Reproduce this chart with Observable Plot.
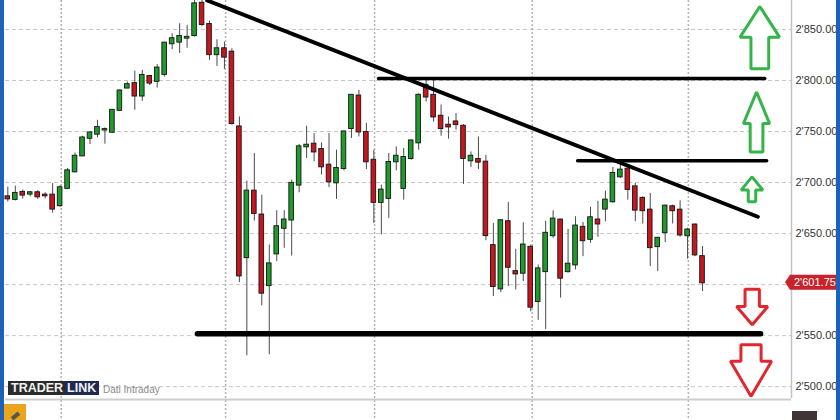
<!DOCTYPE html>
<html>
<head>
<meta charset="utf-8">
<script src="https://cdn.jsdelivr.net/npm/d3@7"></script>
<script src="https://cdn.jsdelivr.net/npm/@observablehq/plot@0.6"></script>
<style>
  html, body { margin: 0; padding: 0; background: #fff; }
  #chart { position: relative; width: 840px; height: 420px; overflow: hidden; background: #fff;
           font-family: "Liberation Sans", Arial, sans-serif; }
  #chart svg { position: absolute; left: 0; top: 0; }
  .edge { position: absolute; top: 0; width: 4px; height: 420px; background: #1c62b9; }
  .edge.left { left: 0; }
  .edge.right { right: 0; }
  .brand { position: absolute; left: 8px; top: 381px; height: 14px; display: flex;
           font-weight: bold; font-size: 12.5px; line-height: 14px; color: #f2f2f2; }
  .brand .b1 { background: #2b2b2b; padding: 0 2px 0 3px; }
  .brand .b2 { background: #1d2b52; padding: 0 3px 0 2px; }
  .feed { position: absolute; left: 103px; top: 384px; font-size: 10px; color: #8a8a8a; }
  .tool { position: absolute; left: 4px; top: 404px; width: 22px; height: 18px; background: #eba51c; }
  .tool::after { content: ""; position: absolute; left: 7px; top: 10px; width: 9px; height: 4px;
                 background: #555; transform: rotate(-40deg); }
  .btn { position: absolute; left: 792px; top: 411px; width: 25px; height: 10px; background: #3e3636; }
</style>
</head>
<body>
<div id="chart">
  <div class="edge left"></div>
  <div class="edge right"></div>
  <div class="brand"><span class="b1">TRADER</span><span class="b2">LINK</span></div>
  <div class="feed">Dati Intraday</div>
  <div class="tool"></div>
  <div class="btn"></div>
</div>
<script>
// Intraday candles, oldest first
const open = [
  2686, 2683.5, 2690.4, 2688.7, 2690, 2687.7, 2687.7, 2677.3, 2694.3, 2710.5,
  2726.1, 2743.4, 2747.4, 2751.5, 2749.3, 2770.8, 2792.6, 2796.9, 2784.8, 2804,
  2799.2, 2806, 2836, 2837.6, 2841.5, 2844.1, 2875.7, 2854.9, 2825.3, 2831.1,
  2827.8, 2754.5, 2626.4, 2691.6, 2668.2, 2599, 2630.1, 2655.2, 2663.3, 2697.5,
  2735, 2737.6, 2732.4, 2717, 2699.7, 2713.8, 2752.9, 2784.8, 2749, 2721.9,
  2680.6, 2684.5, 2720.3, 2694.3, 2723.6, 2738.9, 2795.3, 2785.5, 2765, 2756.2,
  2759.4, 2755.2, 2721.3, 2722.6, 2720, 2638.2, 2595.8, 2661.6, 2612.7, 2611.2,
  2636.6, 2583.4, 2612.7, 2647.9, 2663.3, 2612.7, 2619.3, 2656.1, 2644.4, 2663.3,
  2674, 2681.2, 2705.6, 2713.1, 2695.8, 2684.5, 2673, 2637.2, 2650.9, 2676.3,
  2673, 2647.9, 2658.4, 2627.4
];
const high = [
  2695.5, 2696.5, 2692.6, 2691, 2692, 2690, 2699, 2696.8, 2713.8, 2729,
  2745.4, 2749.6, 2761, 2753.5, 2771.5, 2791, 2798.5, 2809.2, 2810, 2805,
  2815.5, 2837.6, 2845.8, 2855.6, 2853.9, 2880, 2880, 2858.1, 2840, 2837.6,
  2831.1, 2764.3, 2701.4, 2728.5, 2687.7, 2638.8, 2672.4, 2672.4, 2702.4, 2737.3,
  2755.2, 2748, 2738.9, 2748, 2731.7, 2750.3, 2786.2, 2790.4, 2758, 2731.7,
  2697.5, 2728.5, 2735, 2733.4, 2741.5, 2787.1, 2801.8, 2802.8, 2776, 2764.3,
  2767.6, 2756.8, 2730, 2744.7, 2726.8, 2660, 2663.3, 2680.6, 2634.6, 2660.6,
  2638.8, 2619.3, 2662, 2672.4, 2664, 2654.2, 2666.5, 2661, 2675.7, 2681.6,
  2691.6, 2714.8, 2718.7, 2717, 2699.2, 2686.1, 2689.4, 2646.4, 2677.9, 2677.9,
  2682.1, 2655.2, 2659.4, 2637.2
];
const low = [
  2681, 2682, 2683.8, 2686, 2683.5, 2684, 2670, 2675.7, 2693.3, 2709.5,
  2725.8, 2737.3, 2744, 2737.6, 2748, 2769.8, 2792, 2770.8, 2779.6, 2795,
  2792.6, 2803.4, 2830.2, 2826.5, 2831.7, 2842.5, 2853, 2819.7, 2813.8, 2810.9,
  2756.2, 2602, 2530.3, 2662.3, 2579.2, 2531.3, 2622.5, 2635.6, 2628, 2690,
  2723.6, 2720.3, 2707.3, 2695.2, 2683.5, 2711.5, 2743.2, 2744.7, 2712.8, 2660,
  2648.6, 2664.9, 2711.5, 2682.8, 2721.9, 2731.7, 2778.9, 2759.4, 2745.4, 2742.5,
  2751.3, 2698.2, 2714.8, 2712.8, 2643, 2588.3, 2592.2, 2598.1, 2594.8, 2603,
  2573.3, 2565, 2556, 2645.4, 2586.7, 2611.2, 2614.4, 2627.4, 2640.5, 2646.4,
  2661.6, 2679.6, 2704, 2682.8, 2661.6, 2659.4, 2617.6, 2612.7, 2641.1, 2659.4,
  2646.4, 2624.9, 2627.4, 2593.2
];
const close = [
  2684, 2689.4, 2687.7, 2690, 2686, 2687, 2674, 2694.9, 2711.5, 2725.8,
  2743.7, 2748.6, 2753.9, 2751.9, 2770.8, 2789.7, 2795.9, 2784.8, 2805, 2797.5,
  2812.2, 2836.6, 2840.9, 2843.2, 2842.3, 2875.1, 2854.9, 2825.3, 2831.1, 2822.9,
  2757.8, 2608.5, 2691.6, 2669.8, 2591.6, 2620.3, 2656.7, 2663.3, 2699.2, 2735,
  2736.6, 2730, 2715.4, 2700.7, 2713.8, 2749.6, 2785.5, 2749.6, 2720.3, 2680.6,
  2692.6, 2719.7, 2725.8, 2724.6, 2740.8, 2785.5, 2783.8, 2764.3, 2752.9, 2754.5,
  2756.8, 2723.6, 2725.8, 2720, 2648, 2598.1, 2662.6, 2617, 2610.5, 2638.8,
  2577.9, 2615.4, 2650.3, 2664.2, 2606.3, 2620, 2657.4, 2643, 2665.5, 2659.4,
  2682.8, 2708.9, 2712.2, 2693.3, 2673, 2672.4, 2636.2, 2645.4, 2676.9, 2672.4,
  2648.6, 2653.5, 2629.1, 2601.75
];

// Price axis ticks and session separators (bar positions)
const priceTicks = [2500, 2550, 2600, 2650, 2700, 2750, 2800, 2850];
const sessionBreaks = [7.15, 29.15, 49.1, 70.2, 91.1];

// Hand-drawn analysis: falling trendline and horizontal levels
const trendline = [
  {i: 26.7, p: 2878.4},
  {i: 100.4, p: 2666.5}
];
const levels = [
  {price: 2802, from: 49.7, to: 101.4},
  {price: 2721.3, from: 76.35, to: 101.65},
  {price: 2551.8, from: 25.45, to: 100.85}
];

// Signal arrows: direction and price span (tail, neck of the head, tip)
const arrows = [
  {dir: "up", tail: 2811.6, neck: 2842.5, tip: 2872.5},
  {dir: "up", tail: 2730, neck: 2757.8, tip: 2788.7},
  {dir: "up", tail: 2681.2, neck: 2692.6, tip: 2705.6},
  {dir: "down", tail: 2595.5, neck: 2578.5, tip: 2560.6},
  {dir: "down", tail: 2541.1, neck: 2524.8, tip: 2490.5}
];

// Horizontal placement and half-widths of each arrow, in bar units
const arrowLayout = [
  {cx: 100.67, head: 2.64, shaft: 1.19},
  {cx: 100.23, head: 1.75, shaft: 0.85},
  {cx: 99.62, head: 1.46, shaft: 0.5},
  {cx: 99.65, head: 2.09, shaft: 0.96},
  {cx: 99.49, head: 2.75, shaft: 1.35}
];

const xDomain = [-0.31, 104.91];
const yDomain = [2488.4, 2878.4];
const GREEN = "#1f9b2b", RED = "#c7161d";
const ARROW_UP = "#35b44a", ARROW_DOWN = "#e2262d";

const fmt = v => d3.format(",.2f")(v).replace(/,/g, "'");

const candles = open.map((o, i) => ({i, o, h: high[i], l: low[i], c: close[i]}));
const bull = d => d.c >= d.o;
const lastPrice = close[close.length - 1];

// the last-price tag sits on top of any axis label it would cover
const labelTicks = priceTicks.filter(t => Math.abs(t - lastPrice) > 10);

const arrowPoints = arrows.flatMap((a, k) => {
  const g = arrowLayout[k];
  return [
    [0, a.tip], [g.head, a.neck], [g.shaft, a.neck], [g.shaft, a.tail],
    [-g.shaft, a.tail], [-g.shaft, a.neck], [-g.head, a.neck]
  ].map(([dx, p]) => ({k, dir: a.dir, i: g.cx + dx, p}));
});

const body = {
  x1: d => d.i - 0.31, x2: d => d.i + 0.31,
  y1: d => Math.min(d.o, d.c), y2: d => Math.max(d.o, d.c),
  stroke: "#151515", strokeWidth: 0.9, insetTop: -0.5, insetBottom: -0.5
};

const plot = Plot.plot({
  width: 840,
  height: 420,
  marginLeft: 5,
  marginRight: 49,
  marginTop: 0,
  marginBottom: 22,
  style: {background: "transparent", fontFamily: "'Liberation Sans', Arial, sans-serif", fontSize: "11px", color: "#333"},
  x: {domain: xDomain, axis: null},
  y: {domain: yDomain, axis: "right", ticks: labelTicks, tickFormat: fmt, tickSize: 0, tickPadding: 4, label: null},
  marks: [
    Plot.ruleY(priceTicks, {stroke: "#c6c6c6", strokeDasharray: "4,3", strokeWidth: 1}),
    Plot.ruleX(sessionBreaks, {stroke: "#b3b3b3", strokeDasharray: "2,2", strokeWidth: 1.5, insetBottom: -22}),
    Plot.ruleY([yDomain[0]], {stroke: "#cdcdcd", strokeWidth: 2, dy: 1}),
    Plot.ruleX([xDomain[1]], {stroke: "#c2c2c2", strokeWidth: 1.5}),
    Plot.ruleX(candles, {x: "i", y1: "l", y2: "h", stroke: "#4a4a4a", strokeWidth: 1}),
    Plot.rect(candles.filter(bull), {...body, fill: GREEN}),
    Plot.rect(candles.filter(d => !bull(d)), {...body, fill: RED}),
    Plot.line(trendline, {x: "i", y: "p", stroke: "#000", strokeWidth: 4, strokeLinecap: "round"}),
    Plot.ruleY(levels.filter(d => d.price > lastPrice), {y: "price", x1: "from", x2: "to", stroke: "#000", strokeWidth: 3.5, strokeLinecap: "round"}),
    Plot.ruleY(levels.filter(d => d.price < lastPrice), {y: "price", x1: "from", x2: "to", stroke: "#000", strokeWidth: 5.5, strokeLinecap: "round"}),
    Plot.line(arrowPoints.filter(d => d.dir === "up"), {x: "i", y: "p", z: "k", curve: "linear-closed", stroke: ARROW_UP, fill: "white", strokeWidth: 3, strokeLinejoin: "miter"}),
    Plot.line(arrowPoints.filter(d => d.dir === "down"), {x: "i", y: "p", z: "k", curve: "linear-closed", stroke: ARROW_DOWN, fill: "white", strokeWidth: 3, strokeLinejoin: "miter"})
  ]
});

// Last-price tag on the price axis
const svg = d3.select(plot);
const ty = plot.scale("y").apply(lastPrice);
const tx = 840 - 49 - 6;
const tag = svg.append("g");
tag.append("path")
  .attr("d", `M${tx},${ty} L${tx + 5},${ty - 7.5} H840 V${ty + 7.5} H${tx + 5} Z`)
  .attr("fill", "#c8232a");
tag.append("text")
  .attr("x", tx + 9)
  .attr("y", ty)
  .attr("dy", "0.36em")
  .attr("text-anchor", "start")
  .attr("fill", "#fff")
  .attr("font-size", 11)
  .text(fmt(lastPrice));

const host = document.getElementById("chart");
host.insertBefore(plot, host.firstChild);
</script>
</body>
</html>
